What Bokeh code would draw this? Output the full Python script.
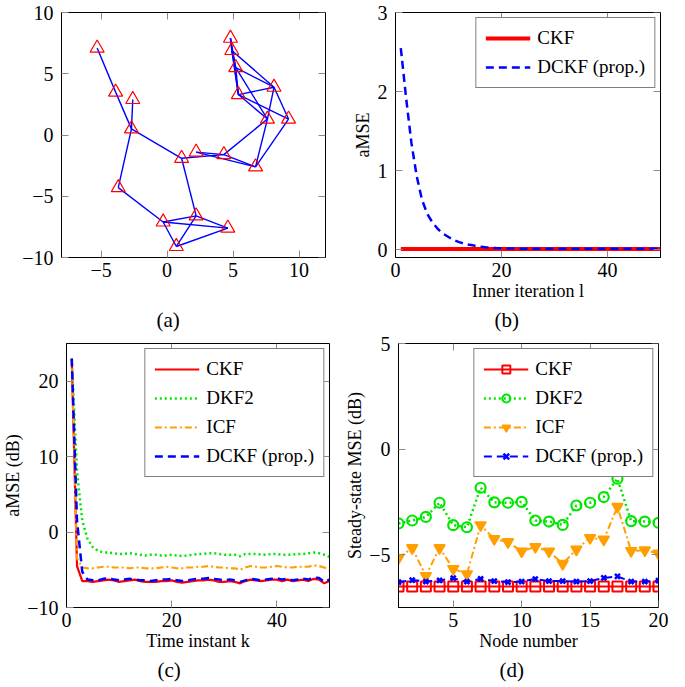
from bokeh.plotting import figure
from bokeh.layouts import column, row
from bokeh.models import Range1d, FixedTicker, LinearAxis, Title, CustomJSTickFormatter
from bokeh.embed import file_html
from bokeh.resources import INLINE

FONT = "Liberation Serif"

# ---------------- (a) network topology ----------------
node_x = [-5.3, -3.9, -2.6, -2.7, -3.7, -0.3, 0.7, 2.2, 4.6, 1.1,
          2.2, 4.3, 6.7, 7.6, 9.2, 8.1, 5.4, 5.2, 4.9, 4.8]
node_y = [7.1, 3.5, 2.9, 0.5, -4.3, -7.1, -9.1, -6.6, -7.6, -1.9,
          -1.4, -1.6, -2.6, 1.3, 1.3, 3.9, 3.3, 5.5, 6.9, 7.9]
edges = [(1, 2), (2, 4), (3, 4), (4, 5), (4, 10), (5, 6), (6, 7), (6, 8), (6, 9),
         (7, 8), (7, 9), (8, 9), (8, 10), (10, 12), (11, 12), (11, 13), (12, 13),
         (12, 14), (13, 14), (14, 16), (13, 15), (15, 16), (15, 17), (16, 17),
         (16, 19), (16, 18), (14, 17), (14, 18), (17, 18), (17, 19), (17, 20),
         (18, 19), (18, 20), (19, 20)]
a_xticks = [-5, 0, 5, 10]
a_yticks = [-10, -5, 0, 5, 10]

# ---------------- (b) inner iterations ----------------
inner_iter = list(range(1, 51))
ckf_b = [0.008, 0.008, 0.008, 0.008, 0.008, 0.008, 0.008, 0.008, 0.008, 0.008,
         0.008, 0.008, 0.008, 0.008, 0.008, 0.008, 0.008, 0.008, 0.008, 0.008,
         0.008, 0.008, 0.008, 0.008, 0.008, 0.008, 0.008, 0.008, 0.008, 0.008,
         0.008, 0.008, 0.008, 0.008, 0.008, 0.008, 0.008, 0.008, 0.008, 0.008,
         0.008, 0.008, 0.008, 0.008, 0.008, 0.008, 0.008, 0.008, 0.008, 0.008]
dckf_b = [2.55, 1.92, 1.35, 0.93, 0.63, 0.45, 0.34, 0.26, 0.2, 0.16,
          0.12, 0.095, 0.075, 0.06, 0.048, 0.038, 0.03, 0.024, 0.019, 0.016,
          0.014, 0.013, 0.012, 0.012, 0.012, 0.012, 0.012, 0.012, 0.012, 0.012,
          0.012, 0.012, 0.012, 0.012, 0.012, 0.012, 0.012, 0.012, 0.012, 0.012,
          0.012, 0.012, 0.012, 0.012, 0.012, 0.012, 0.012, 0.012, 0.012, 0.012]
b_xticks = [0, 20, 40]
b_yticks = [0, 1, 2, 3]

# ---------------- (c) aMSE vs time ----------------
time_k = list(range(1, 51))
ckf_c = [23.0, -4.5, -6.5, -6.5, -6.6, -6.5, -6.4, -6.3, -6.4, -6.6,
         -6.5, -6.4, -6.3, -6.5, -6.6, -6.6, -6.6, -6.5, -6.5, -6.4,
         -6.6, -6.7, -6.6, -6.5, -6.4, -6.4, -6.3, -6.4, -6.6, -6.6,
         -6.5, -6.6, -6.8, -6.5, -6.3, -6.4, -6.5, -6.4, -6.3, -6.3,
         -6.5, -6.3, -6.5, -6.4, -6.3, -6.5, -6.2, -6.3, -6.8, -6.5]
dkf2_c = [23.0, 8.0, 1.5, -0.9, -2.0, -2.5, -2.7, -2.7, -2.8, -2.9,
          -2.9, -2.8, -2.9, -3.0, -3.1, -3.0, -3.0, -3.1, -3.1, -3.0,
          -3.1, -3.2, -3.1, -3.0, -2.9, -2.9, -2.8, -2.8, -2.9, -3.0,
          -3.0, -3.0, -3.2, -2.9, -2.9, -2.9, -3.0, -3.0, -2.9, -2.9,
          -3.0, -3.0, -3.0, -2.9, -2.9, -2.8, -2.7, -2.8, -3.0, -3.3]
icf_c = [23.0, -3.5, -4.7, -4.8, -4.8, -4.7, -4.6, -4.6, -4.7, -4.7,
         -4.7, -4.8, -4.7, -4.7, -4.8, -4.8, -4.8, -4.7, -4.6, -4.7,
         -4.8, -4.8, -4.7, -4.7, -4.6, -4.6, -4.5, -4.6, -4.7, -4.7,
         -4.8, -4.8, -5.0, -4.7, -4.5, -4.6, -4.7, -4.7, -4.6, -4.5,
         -4.6, -4.7, -4.7, -4.6, -4.6, -4.6, -4.4, -4.5, -4.7, -5.0]
dckf_c = [23.0, 1.5, -5.3, -6.3, -6.4, -6.4, -6.2, -6.1, -6.3, -6.4,
          -6.3, -6.2, -6.3, -6.4, -6.4, -6.5, -6.4, -6.3, -6.3, -6.2,
          -6.4, -6.5, -6.4, -6.3, -6.2, -6.2, -6.1, -6.2, -6.3, -6.4,
          -6.3, -6.4, -6.6, -6.4, -6.2, -6.3, -6.4, -6.3, -6.2, -6.1,
          -6.3, -6.2, -6.4, -6.3, -6.2, -6.3, -6.0, -6.1, -6.6, -6.3]
c_xticks = [0, 20, 40]
c_yticks = [-10, 0, 10, 20]

# ---------------- (d) steady-state MSE per node ----------------
node_num = list(range(1, 21))
ckf_d = [-6.5, -6.5, -6.5, -6.5, -6.5, -6.5, -6.5, -6.5, -6.5, -6.5,
         -6.5, -6.5, -6.5, -6.5, -6.5, -6.5, -6.5, -6.5, -6.5, -6.5]
dkf2_d = [-3.52, -3.38, -3.21, -2.54, -3.6, -3.7, -1.83, -2.52, -2.54, -2.5,
          -3.38, -3.43, -3.59, -2.67, -2.54, -2.27, -1.4, -3.41, -3.43, -3.49]
icf_d = [-5.16, -4.68, -6.0, -4.68, -5.67, -5.92, -3.6, -4.25, -4.4, -4.84,
         -4.63, -4.84, -5.43, -4.75, -4.2, -4.28, -2.73, -4.82, -4.79, -4.94]
dckf_d = [-6.3, -6.2, -6.27, -6.22, -6.11, -6.28, -6.14, -6.25, -6.3, -6.27,
          -6.15, -6.25, -6.25, -6.27, -6.25, -6.1, -6.03, -6.27, -6.27, -6.23]
d_xticks = [5, 10, 15, 20]
d_yticks = [-5, 0, 5]

RED = "#ff0000"
BLUE = "#0000ff"
GREEN = "#00e600"
ORANGE = "#ff9f00"
TICKC = "#8a8a8a"


def minus(ticks):
    return {t: (str(t).replace("-", "\u2212")) for t in ticks}


def make_fig(w, h, xr, yr, borders, xt, yt, xlab=" ", ylab=None, ylab_st=2,
             cap="(a)", cap_off=100, cap_gap=2):
    l, r, t, b = borders
    p = figure(width=w, height=h, x_range=Range1d(*xr), y_range=Range1d(*yr),
               output_backend="svg", toolbar_location=None,
               min_border_left=l, min_border_right=r, min_border_top=t,
               min_border_bottom=b)
    p.outline_line_color = "black"
    p.outline_line_width = 1
    p.grid.visible = False
    p.background_fill_color = "white"
    p.border_fill_color = "white"
    for ax, ticks in ((p.xaxis[0], xt), (p.yaxis[0], yt)):
        ax.ticker = FixedTicker(ticks=ticks)
        ax.major_label_overrides = minus(ticks)
        ax.major_tick_in = 7
        ax.major_tick_out = 0
        ax.major_tick_line_color = TICKC
        ax.minor_tick_line_color = None
        ax.axis_line_color = "black"
        ax.major_label_text_font = FONT
        ax.major_label_text_font_size = "20px"
        ax.major_label_text_color = "black"
        ax.axis_label_text_font = FONT
        ax.axis_label_text_font_size = "18px"
        ax.axis_label_text_font_style = "normal"
        ax.axis_label_text_color = "black"
    p.xaxis[0].major_label_standoff = 5
    p.yaxis[0].major_label_standoff = 8
    p.xaxis[0].axis_label = xlab
    p.xaxis[0].axis_label_standoff = 1
    if ylab:
        p.yaxis[0].axis_label = ylab
        p.yaxis[0].axis_label_standoff = ylab_st
    # mirrored tick marks on the top and right edges (no extra border space)
    for side, ticks, loc in (("above", xt, yr[1]), ("right", yt, xr[1])):
        ax = LinearAxis(ticker=FixedTicker(ticks=ticks), fixed_location=loc,
                        formatter=CustomJSTickFormatter(code="return ''"),
                        major_tick_in=7, major_tick_out=0,
                        major_tick_line_color=TICKC, minor_tick_line_color=None,
                        axis_line_color="black", major_label_standoff=0,
                        major_label_text_font_size="1px")
        p.add_layout(ax, side)
    p.add_layout(Title(text=cap, align="left", offset=cap_off,
                       standoff=2 * cap_gap, vertical_align="bottom",
                       text_font=FONT, text_font_size="21px",
                       text_font_style="normal", text_color="black"), "below")
    return p


def style_legend(p):
    lg = p.legend[0]
    lg.location = "top_right"
    lg.margin = 5
    lg.padding = 9
    lg.spacing = 7
    lg.glyph_width = 45
    lg.glyph_height = 20
    lg.label_height = 20
    lg.label_standoff = 7
    lg.label_text_font = FONT
    lg.label_text_font_size = "19px"
    lg.label_text_color = "black"
    lg.border_line_color = "black"
    lg.border_line_width = 1
    lg.background_fill_color = "white"
    lg.background_fill_alpha = 1.0


TOP_H = 334
BOT_H = 352

# ---- (a)
pa = make_fig(342, TOP_H, (-8, 12), (-10, 10), (61, 17, 12, 77), a_xticks, a_yticks,
              cap="(a)", cap_off=95, cap_gap=2)
exs = [[node_x[i - 1], node_x[j - 1]] for i, j in edges]
eys = [[node_y[i - 1], node_y[j - 1]] for i, j in edges]
pa.multi_line(exs, eys, line_color=BLUE, line_width=1.4)
pa.scatter(node_x, node_y, marker="triangle", size=14, line_color=RED,
           fill_color=None, line_width=1.2)

# ---- (b)
pb = make_fig(342, TOP_H, (0, 50), (-0.1, 3), (53, 24, 12, 77), b_xticks, b_yticks,
              xlab="Inner iteration l", ylab="aMSE", ylab_st=2,
              cap="(b)", cap_off=99, cap_gap=2)
pb.line(inner_iter, ckf_b, line_color=RED, line_width=4, legend_label="CKF")
pb.line(inner_iter, dckf_b, line_color=BLUE, line_width=2.5, line_dash="8 5",
        legend_label="DCKF (prop.)")
style_legend(pb)

# ---- (c)
pc = make_fig(342, BOT_H, (0, 50), (-10, 25), (63, 13, 9, 79), c_xticks, c_yticks,
              xlab="Time instant k", ylab="aMSE (dB)", ylab_st=1,
              cap="(c)", cap_off=91, cap_gap=2)
pc.line(time_k, ckf_c, line_color=RED, line_width=2.2, legend_label="CKF")
pc.line(time_k, dkf2_c, line_color=GREEN, line_width=2.5, line_dash="2 3",
        legend_label="DKF2")
pc.line(time_k, icf_c, line_color=ORANGE, line_width=2.2, line_dash="7 3 2 3",
        legend_label="ICF")
pc.line(time_k, dckf_c, line_color=BLUE, line_width=2.5, line_dash="8 5",
        legend_label="DCKF (prop.)")
style_legend(pc)

# ---- (d)
pd_ = make_fig(342, BOT_H, (1, 20), (-7.5, 5), (51, 26, 9, 79), d_xticks, d_yticks,
               xlab="Node number", ylab="Steady-state MSE (dB)", ylab_st=1,
               cap="(d)", cap_off=101, cap_gap=2)
pd_.line(node_num, ckf_d, line_color=RED, line_width=2, legend_label="CKF")
pd_.scatter(node_num, ckf_d, marker="square", size=10, line_color=RED,
            fill_color=None, line_width=2, legend_label="CKF")
pd_.line(node_num, dkf2_d, line_color=GREEN, line_width=2.5, line_dash="2 3",
         legend_label="DKF2")
pd_.scatter(node_num, dkf2_d, marker="circle", size=10, line_color=GREEN,
            fill_color=None, line_width=2.2, legend_label="DKF2")
pd_.line(node_num, icf_d, line_color=ORANGE, line_width=2, line_dash="7 3 2 3",
         legend_label="ICF")
pd_.scatter(node_num, icf_d, marker="inverted_triangle", size=11,
            line_color=ORANGE, fill_color=ORANGE, line_width=1.5,
            legend_label="ICF")
pd_.line(node_num, dckf_d, line_color=BLUE, line_width=2, line_dash="8 5",
         legend_label="DCKF (prop.)")
pd_.scatter(node_num, dckf_d, marker="x", size=7, line_color=BLUE,
            line_width=2.5, legend_label="DCKF (prop.)")
style_legend(pd_)

layout = column(row(pa, pb), row(pc, pd_))

open("out.html", "w").write(file_html(layout, INLINE))
